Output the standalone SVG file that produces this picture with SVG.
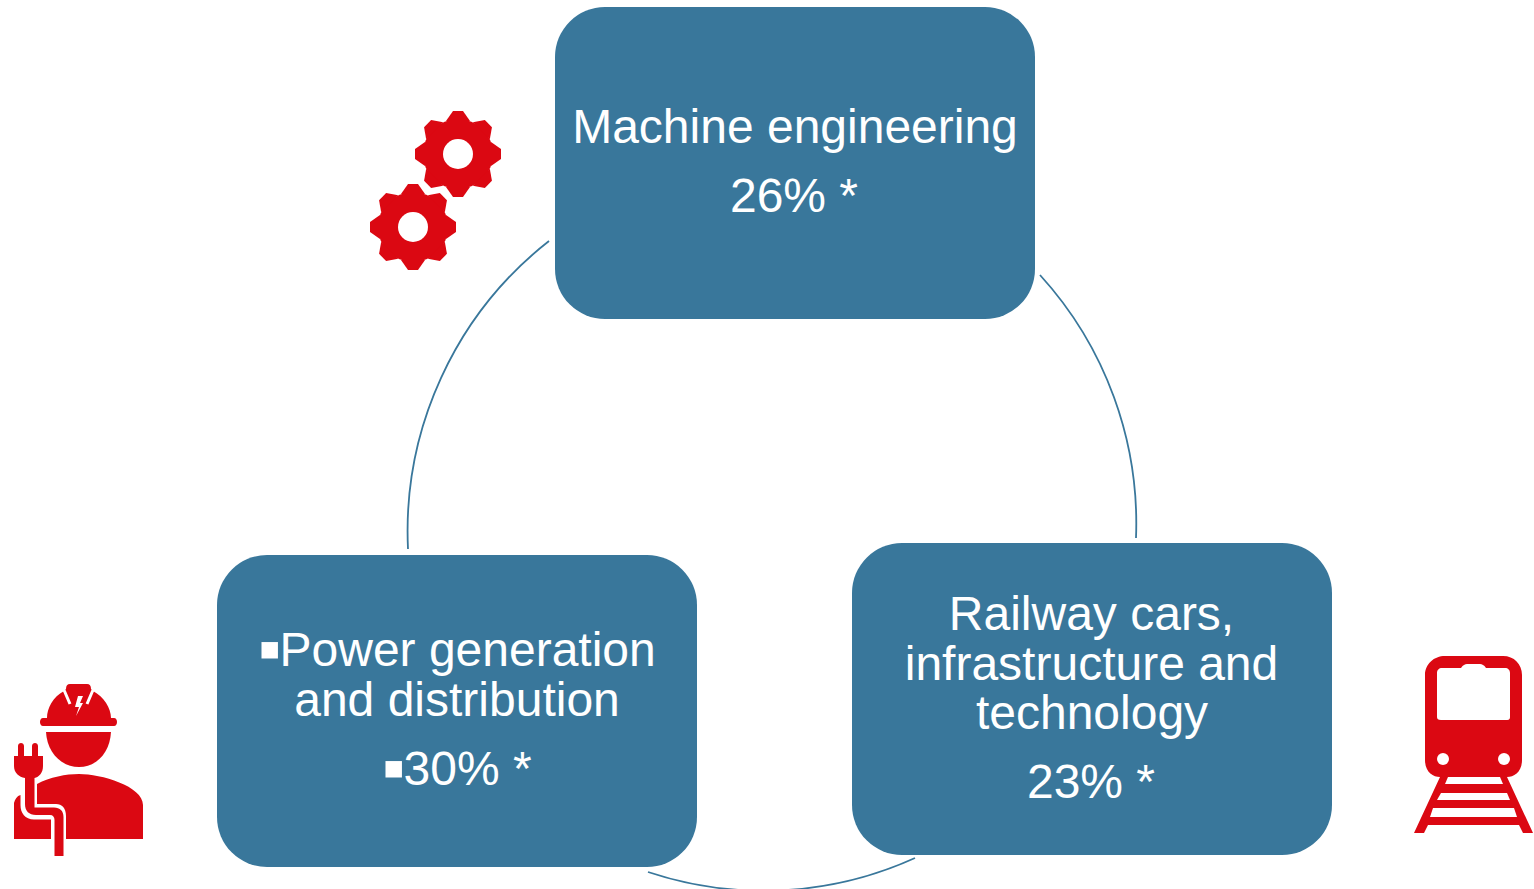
<svg xmlns="http://www.w3.org/2000/svg" xmlns:xlink="http://www.w3.org/1999/xlink" width="1534" height="889" viewBox="0 0 1534 889">
<style>
.box{fill:#39779b}
.t{font-family:"Liberation Sans",Arial,sans-serif;font-size:48px;fill:#fff;text-anchor:middle}
.s{text-anchor:start}
.b{font-size:66px}
.red{fill:#db0812}
.wht{fill:#fff}
.gap{fill:none;stroke:#fff;stroke-width:3}
.arc{fill:none;stroke:#39779b;stroke-width:1.8}
</style>
<defs>
<g id="gear">
<circle class="red" r="35"/>
<polygon id="tooth" class="red" points="-12,-33 -5,-43 5,-43 12,-33"/>
<use xlink:href="#tooth" href="#tooth" transform="rotate(45)"/>
<use xlink:href="#tooth" href="#tooth" transform="rotate(90)"/>
<use xlink:href="#tooth" href="#tooth" transform="rotate(135)"/>
<use xlink:href="#tooth" href="#tooth" transform="rotate(180)"/>
<use xlink:href="#tooth" href="#tooth" transform="rotate(225)"/>
<use xlink:href="#tooth" href="#tooth" transform="rotate(270)"/>
<use xlink:href="#tooth" href="#tooth" transform="rotate(315)"/>
<circle class="wht" r="15"/>
</g>
</defs>
<rect width="1534" height="889" fill="#fff"/>
<g id="connectors">
<path class="arc" d="M549 241A369 369 0 0 0 408 549"/>
<path class="arc" d="M1040 275A369 369 0 0 1 1136 538"/>
<path class="arc" d="M915 858A366 366 0 0 1 648 872"/>
</g>
<g id="node-machine">
<rect class="box" x="555" y="7" width="480" height="312" rx="50"/>
<text class="t" x="795" y="143">Machine engineering</text>
<text class="t" x="794" y="212">26% *</text>
</g>
<g id="node-power">
<rect class="box" x="217" y="555" width="480" height="312" rx="50"/>
<text class="t s" x="258" y="666"><tspan class="b" dy="5">▪</tspan><tspan x="279.500" dy="-5">Power generation</tspan></text>
<text class="t" x="457" y="716">and distribution</text>
<text class="t s" x="382" y="785"><tspan class="b" dy="5">▪</tspan><tspan x="403.500" dy="-5">30% *</tspan></text>
</g>
<g id="node-railway">
<rect class="box" x="852" y="543" width="480" height="312" rx="50"/>
<text class="t" x="1091.500" y="630">Railway cars,</text>
<text class="t" x="1091.500" y="680">infrastructure and</text>
<text class="t" x="1092" y="729">technology</text>
<text class="t" x="1091" y="798">23% *</text>
</g>
<g id="icon-gears">
<use xlink:href="#gear" href="#gear" transform="translate(458 154)"/>
<use xlink:href="#gear" href="#gear" transform="translate(413 227)"/>
</g>
<g id="icon-worker">
<path class="red" d="M70 684H87Q91 684 91 689L93 691C104 697 111 708 111 718H114C118 718 118 726 114 726H43C39 726 39 718 43 718H47C47 708 53 697 64 691L66 689Q66 684 70 684Z"/>
<path class="gap" d="M64 690L70 704M93 690L87 704"/>
<path class="wht" d="M78 696L75 707 79 707 76 716 83 703 80 703 83 696Z"/>
<path class="red" d="M46 732H111C110 752 97 767 79 767C61 767 47 752 46 732Z"/>
<path class="red" d="M37 784C50 777 66 774 79 774C101 774 143 786 143 805V839H66V816C66 808 62 804 56 804H37Z"/>
<path class="red" d="M14 803C15 799 17 796 20.500 795V805C20.500 813 25 819.500 34 819.500H51V839H14Z"/>
<path class="red" d="M14 756H18V746C18 742 24 742 24 746V756H32V746C32 742 38 742 38 746V756H43V766C43 773 39 777 34.500 778V807.500H54C60 807.500 63.500 811 63.500 817V856H54.500V820C54.500 817 53 815 50 815H36C29 815 25 811 25 804V778C19 777 14 773 14 766Z"/>
</g>
<g id="icon-train">
<path class="red" d="M1445 656H1503C1514 656 1522 664 1522 675V760C1522 772 1514 777 1507 777L1533 833H1523L1519 825H1428L1424 833H1414L1440 777C1433 777 1425 772 1425 760V675C1425 664 1434 656 1445 656Z"/>
<path class="wht" d="M1442 668H1461C1463 665 1465 664 1467 664H1480C1482 664 1484 665 1486 668H1505C1508 668 1510 670 1510 673V717C1510 720 1508 720 1506 720H1441C1438 720 1437 719 1437 717V673C1437 670 1439 668 1442 668Z"/>
<circle class="wht" cx="1443" cy="759" r="6"/>
<circle class="wht" cx="1504" cy="759" r="6"/>
<polygon class="wht" points="1448,777 1500,777 1503,784 1445,784"/>
<polygon class="wht" points="1441,793 1507,793 1510,800 1437,800"/>
<polygon class="wht" points="1433,808 1514,808 1517,817 1430,817"/>
</g>
</svg>
